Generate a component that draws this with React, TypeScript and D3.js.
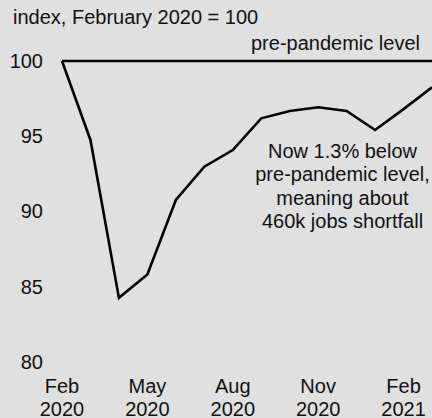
import React from "react";
import * as d3 from "d3";

const months = [
  "Feb 2020", "Mar 2020", "Apr 2020", "May 2020", "Jun 2020", "Jul 2020", "Aug 2020",
  "Sep 2020", "Oct 2020", "Nov 2020", "Dec 2020", "Jan 2021", "Feb 2021", "Mar 2021",
];
const indexValues = [
  100, 94.75, 84.25, 85.8, 90.76, 92.97, 94.08, 96.19, 96.68, 96.92, 96.68, 95.41, 96.8, 98.25,
];
const baselineValue = 100;
const yTicks = [80, 85, 90, 95, 100];
const xTickMonths = ["Feb 2020", "May 2020", "Aug 2020", "Nov 2020", "Feb 2021"];
const xTickLabels = [
  ["Feb", "2020"],
  ["May", "2020"],
  ["Aug", "2020"],
  ["Nov", "2020"],
  ["Feb", "2021"],
];
const title = "index, February 2020 = 100";
const baselineLabel = "pre-pandemic level";
const annotationLines = [
  "Now 1.3% below",
  "pre-pandemic level,",
  "meaning about",
  "460k jobs shortfall",
];

const W = 432;
const H = 418;
const FONT = "'Liberation Sans', Arial, Helvetica, sans-serif";
const FS = 20;
const TXT = "#111";

export default function App() {
  const x = d3.scaleLinear().domain([0, months.length - 1]).range([62, 432]);
  const y = d3.scaleLinear().domain([80, 100]).range([361.8, 61]);
  const line = d3
    .line<number>()
    .x((_, i) => x(i))
    .y((d) => y(d));
  const pts = indexValues;

  return (
    <svg
      width={W}
      height={H}
      style={{ position: "absolute", left: 0, top: 0, display: "block" }}
      fontFamily={FONT}
    >
      <rect x={0} y={0} width={W} height={H} fill="#e0e0e0" />
      <text x={13} y={23.5} fontSize={FS} fill={TXT}>
        {title}
      </text>
      {yTicks.map((t) => (
        <text
          key={t}
          x={43}
          y={y(t)}
          dy="0.35em"
          textAnchor="end"
          fontSize={FS}
          fill={TXT}
        >
          {t}
        </text>
      ))}
      {xTickMonths.map((m, k) => {
        const i = months.indexOf(m);
        return (
          <text key={m} x={x(i)} textAnchor="middle" fontSize={FS} fill={TXT}>
            <tspan x={x(i)} y={392.5}>
              {xTickLabels[k][0]}
            </tspan>
            <tspan x={x(i)} y={415.5}>
              {xTickLabels[k][1]}
            </tspan>
          </text>
        );
      })}
      <line
        x1={x(0)}
        x2={x(months.length - 1)}
        y1={y(baselineValue)}
        y2={y(baselineValue)}
        stroke="#000"
        strokeWidth={2.6}
      />
      <text x={335.5} y={50} textAnchor="middle" fontSize={FS} fill={TXT}>
        {baselineLabel}
      </text>
      <path
        d={line(pts) || ""}
        fill="none"
        stroke="#000"
        strokeWidth={2.6}
        strokeLinejoin="miter"
      />
      <text textAnchor="middle" fontSize={FS} fill={TXT}>
        {annotationLines.map((l, i) => (
          <tspan key={i} x={342.5} y={157.8 + i * 23.5}>
            {l}
          </tspan>
        ))}
      </text>
    </svg>
  );
}
